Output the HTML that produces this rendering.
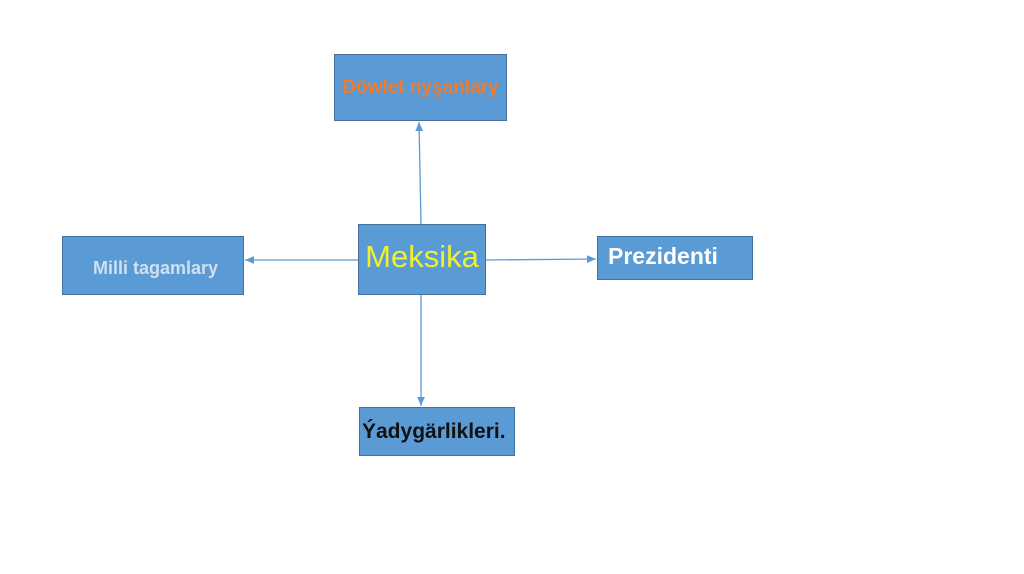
<!DOCTYPE html>
<html><head><style>
body{margin:0;width:1024px;height:574px;background:#fff;position:relative;overflow:hidden;font-family:"Liberation Sans",sans-serif}
.b{position:absolute;background:#5b9bd5;border:1px solid #41719c;box-sizing:border-box;display:flex;align-items:center;justify-content:center;font-weight:bold}
</style></head><body>
<svg width="1024" height="574" style="position:absolute;left:0;top:0">
<defs><marker id="a" markerWidth="8" markerHeight="8" refX="7" refY="4" orient="auto"><path d="M0,1L7,4L0,7z" fill="#5b9bd5"/></marker></defs>
<g stroke="#5b9bd5" stroke-width="1.3" fill="none">
<line x1="421" y1="224" x2="419" y2="122" marker-end="url(#a)"/>
<line x1="358" y1="260" x2="245" y2="260" marker-end="url(#a)"/>
<line x1="485" y1="260" x2="596" y2="259" marker-end="url(#a)"/>
<line x1="421" y1="294" x2="421" y2="406" marker-end="url(#a)"/>
</g></svg>
<div class="b" style="left:334px;top:54px;width:173px;height:67px;color:#f47a2a;font-size:19px">Döwlet nyşanlary</div>
<div class="b" style="left:358px;top:224px;width:128px;height:71px;color:#f0f030;font-size:31px;font-weight:normal;padding-bottom:6px">Meksika</div>
<div class="b" style="left:62px;top:236px;width:182px;height:59px;color:#cfe0f0;font-size:18px;padding-left:30px;padding-top:6px;justify-content:flex-start">Milli tagamlary</div>
<div class="b" style="left:597px;top:236px;width:156px;height:44px;color:#fff;font-size:23px;justify-content:flex-start;padding-left:10px;padding-bottom:4px">Prezidenti</div>
<div class="b" style="left:359px;top:407px;width:156px;height:49px;color:#111;font-size:21px;justify-content:flex-start;padding-left:2px">Ýadygärlikleri.</div>
</body></html>
